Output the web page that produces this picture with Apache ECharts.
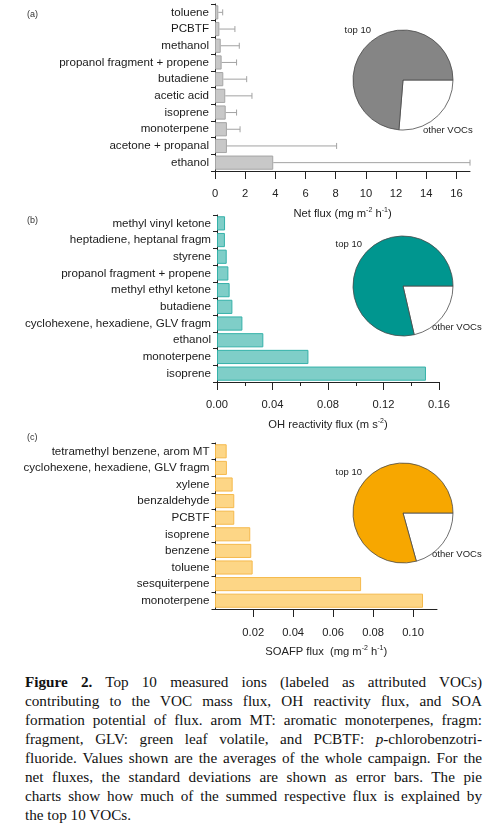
<!DOCTYPE html>
<html><head><meta charset="utf-8">
<script src="https://cdn.jsdelivr.net/npm/echarts@6/dist/echarts.min.js"></script>
<style>
html,body{margin:0;padding:0;background:#fff;}
#wrap{position:relative;width:496px;height:826px;overflow:hidden;background:#fff;}
#chart{position:absolute;left:0;top:0;width:496px;height:665px;}
#cap{position:absolute;left:25px;top:672px;width:457px;font-family:'Liberation Serif','DejaVu Serif',serif;font-size:15.2px;line-height:19px;color:#111;}
#cap div{text-align:justify;text-align-last:justify;}
#cap div.last{text-align-last:left;}
</style>
</head><body>
<div id="wrap">
<div id="chart"></div>
<div id="cap">
<div><b>Figure 2.</b> Top 10 measured ions (labeled as attributed VOCs)</div>
<div>contributing to the VOC mass flux, OH reactivity flux, and SOA</div>
<div>formation potential of flux. arom MT: aromatic monoterpenes, fragm:</div>
<div>fragment, GLV: green leaf volatile, and PCBTF: <i>p</i>-chlorobenzotri-</div>
<div>fluoride. Values shown are the averages of the whole campaign. For the</div>
<div>net fluxes, the standard deviations are shown as error bars. The pie</div>
<div>charts show how much of the summed respective flux is explained by</div>
<div class="last">the top 10 VOCs.</div>
</div>
</div>
<script>
// ---- data ----
const catsA = ['toluene','PCBTF','methanol','propanol fragment + propene','butadiene','acetic acid','isoprene','monoterpene','acetone + propanal','ethanol'];
const netFlux = [0.22,0.29,0.38,0.44,0.55,0.68,0.71,0.79,0.79,3.86];
const netFluxSD = [0.29,1.03,1.23,0.99,1.55,1.77,0.72,0.87,7.27,13.04];
const ticksA = [0,2,4,6,8,10,12,14,16];

const catsB = ['methyl vinyl ketone','heptadiene, heptanal fragm','styrene','propanol fragment + propene','methyl ethyl ketone','butadiene','cyclohexene, hexadiene, GLV fragm','ethanol','monoterpene','isoprene'];
const ohFlux = [0.0058,0.0057,0.0070,0.0082,0.0091,0.0111,0.0183,0.0334,0.0659,0.1506];
const ticksB = [0,0.04,0.08,0.12,0.16];

const catsC = ['tetramethyl benzene, arom MT','cyclohexene, hexadiene, GLV fragm','xylene','benzaldehyde','PCBTF','isoprene','benzene','toluene','sesquiterpene','monoterpene'];
const soafpFlux = [0.0067,0.0068,0.0097,0.0105,0.0105,0.0185,0.0190,0.0197,0.0740,0.1050];
const ticksC = [0.02,0.04,0.06,0.08,0.10];

const pieNames = ['other VOCs','top 10'];
const pieA = [26.3, 73.7];
const pieB = [21.4, 78.6];
const pieC = [20.7, 79.3];

// ---- styles ----
const FONT = "'Liberation Sans', Arial, sans-serif";
const INK = '#222';
const grids = [
  {left:215, top:4, width:255, height:167},
  {left:217, top:215, width:222, height:167},
  {left:215.5, top:443, width:221.5, height:166}
];
const pieCenters = [[403,80],[403,286],[403,513]];
const pieLabelOff = [
  {top:[-32,-50], other:[20,50]},
  {top:[-41,-42], other:[29,41]},
  {top:[-41,-41], other:[29,41]}
];
const pieColors = ['#858585','#00968f','#f7a700'];

function yAxis(i, cats){
  return {type:'category', gridIndex:i, data:cats, inverse:true,
    axisLine:{show:true, lineStyle:{color:INK, width:1}},
    axisTick:{show:true, length:4, alignWithLabel:false, interval:0, lineStyle:{color:INK}},
    axisLabel:{interval:0, fontSize:11.6, color:'#1a1a1a', margin:6, fontFamily:FONT},
    splitLine:{show:false}};
}
function rich(){
  return {a:{fontSize:11.2, color:INK, fontFamily:FONT}, s:{fontSize:7, color:INK, fontFamily:FONT, verticalAlign:'top', padding:[0,0,6,0]}};
}
const xAxes = [
  {type:'value', gridIndex:0, min:0, max:16.9,
   axisLine:{show:true, lineStyle:{color:INK}},
   axisTick:{show:true, length:8, customValues:ticksA, lineStyle:{color:INK}},
   axisLabel:{customValues:ticksA, fontSize:11.2, color:INK, margin:17, fontFamily:FONT},
   splitLine:{show:false},
   name:'{a|Net flux (mg m}{s|-2}{a| h}{s|-1}{a|)}', nameLocation:'middle', nameGap:36,
   nameTextStyle:{rich:rich()}},
  {type:'value', gridIndex:1, min:0, max:0.16, interval:0.04,
   axisLine:{show:true, lineStyle:{color:INK}},
   axisTick:{show:true, length:8, customValues:ticksB, lineStyle:{color:INK}},
   minorTick:{show:true, splitNumber:2, length:4, lineStyle:{color:INK}},
   axisLabel:{customValues:ticksB, fontSize:11.2, color:INK, margin:17, fontFamily:FONT, formatter:v=>v.toFixed(2)},
   splitLine:{show:false},
   name:'{a|OH reactivity flux (m s}{s|-2}{a|)}', nameLocation:'middle', nameGap:36,
   nameTextStyle:{rich:rich()}},
  {type:'value', gridIndex:2, min:0.0011, max:0.112,
   axisLine:{show:true, lineStyle:{color:INK}},
   axisTick:{show:true, length:8, customValues:ticksC, lineStyle:{color:INK}},
   axisLabel:{customValues:ticksC, fontSize:11.2, color:INK, margin:18, fontFamily:FONT, formatter:v=>v.toFixed(2)},
   splitLine:{show:false},
   name:'{a|SOAFP flux  (mg m}{s|-2}{a| h}{s|-1}{a|)}', nameLocation:'middle', nameGap:36,
   nameTextStyle:{rich:rich()}}
];

function bar(i, data, fill, border){
  return {type:'bar', xAxisIndex:i, yAxisIndex:i, data:data, barWidth:'85%', silent:true,
    itemStyle:{color:fill, borderColor:border, borderWidth:1}, z:2};
}
function pie(i, vals){
  const c = pieCenters[i], off = pieLabelOff[i];
  return {type:'pie', center:c, radius:50, startAngle:0, clockwise:true, silent:true,
    avoidLabelOverlap:false,
    data: pieNames.map((n,k)=>({name:n, value:vals[k], itemStyle:{color: k===0 ? '#ffffff' : pieColors[i]}})),
    itemStyle:{borderColor:'#4a4a4a', borderWidth:0.8},
    label:{show:true, position:'outside', fontSize:9.5, color:INK, fontFamily:FONT, formatter:'{b}'},
    labelLine:{show:false, length:4, length2:0},
    labelLayout:function(p){
      if (p.dataIndex===1) return {x:c[0]+off.top[0], y:c[1]+off.top[1], align:'right', verticalAlign:'middle'};
      return {x:c[0]+off.other[0], y:c[1]+off.other[1], align:'left', verticalAlign:'middle'};
    },
    emphasis:{disabled:true}};
}

const errSeries = {
  type:'custom', xAxisIndex:0, yAxisIndex:0, silent:true, z:3,
  data: netFlux.map((v,i)=>[v, i, v+netFluxSD[i]]),
  encode:{x:[0,2], y:1},
  renderItem:function(params, api){
    const p0 = api.coord([api.value(0), api.value(1)]);
    const p1 = api.coord([api.value(2), api.value(1)]);
    const h = 3;
    const st = {stroke:'#a2a2a2', lineWidth:1};
    return {type:'group', children:[
      {type:'line', shape:{x1:p0[0], y1:p0[1], x2:p1[0], y2:p1[1]}, style:st},
      {type:'line', shape:{x1:p1[0], y1:p1[1]-h, x2:p1[0], y2:p1[1]+h}, style:st}
    ]};
  }
};

const chart = echarts.init(document.getElementById('chart'), null, {renderer:'canvas'});
chart.setOption({
  animation:false,
  backgroundColor:'#fff',
  grid: grids.map(g=>Object.assign({containLabel:false, outerBoundsMode:'none'}, g)),
  xAxis: xAxes,
  yAxis: [yAxis(0,catsA), yAxis(1,catsB), yAxis(2,catsC)],
  series: [
    bar(0, netFlux, '#c8c8c8', '#a5a5a5'),
    errSeries,
    bar(1, ohFlux, '#7fcec8', '#35b1a9'),
    bar(2, soafpFlux, '#fdd686', '#f5b94c'),
    pie(0, pieA), pie(1, pieB), pie(2, pieC)
  ],
  graphic: [
    {type:'text', left:27, top:10, style:{text:'(a)', fontSize:9, fill:'#333', fontFamily:FONT}},
    {type:'text', left:27, top:216, style:{text:'(b)', fontSize:9, fill:'#333', fontFamily:FONT}},
    {type:'text', left:27, top:433, style:{text:'(c)', fontSize:9, fill:'#333', fontFamily:FONT}}
  ]
});
</script>
</body></html>
